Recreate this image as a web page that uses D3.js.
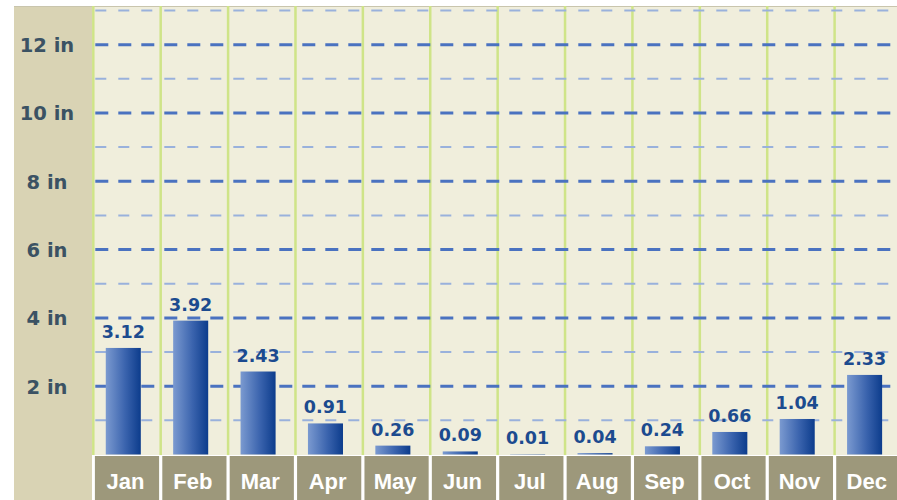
<!DOCTYPE html>
<html>
<head>
<meta charset="utf-8">
<script src="https://cdn.jsdelivr.net/npm/d3@7"></script>
<style>
    html, body { margin: 0; padding: 0; background: #ffffff; }
    svg { display: block; }
</style>
</head>
<body>
<div id="chart"></div>
<script>
// monthly precipitation, inches
const months = ["Jan", "Feb", "Mar", "Apr", "May", "Jun", "Jul", "Aug", "Sep", "Oct", "Nov", "Dec"];
const rainfall = [3.12, 3.92, 2.43, 0.91, 0.26, 0.09, 0.01, 0.04, 0.24, 0.66, 1.04, 2.33];
const majorTicks = [2, 4, 6, 8, 10, 12];
const minorTicks = [1, 3, 5, 7, 9, 11, 13];

const width = 897;
const height = 500;

const plot = { left: 93.3, top: 6, right: 902, bottom: 455 };
const panel = { left: 14, right: 92 };

const svg = d3.select("#chart").append("svg")
    .attr("width", width)
    .attr("height", height);

const defs = svg.append("defs");
const grad = defs.append("linearGradient")
    .attr("id", "barGrad")
    .attr("x1", "0%").attr("x2", "100%")
    .attr("y1", "0%").attr("y2", "0%");
grad.append("stop").attr("offset", "0%").attr("stop-color", "#7b9ad0");
grad.append("stop").attr("offset", "55%").attr("stop-color", "#3b64ae");
grad.append("stop").attr("offset", "100%").attr("stop-color", "#0c3c8c");

const x = d3.scaleBand()
    .domain(months)
    .range([plot.left, plot.right])
    .padding(0);

const y = d3.scaleLinear()
    .domain([0, 13])
    .range([454.5, 10.5]);

// backgrounds
svg.append("rect")
    .attr("x", panel.left)
    .attr("y", plot.top)
    .attr("width", panel.right - panel.left)
    .attr("height", height - plot.top)
    .attr("fill", "#d9d3b4");

svg.append("rect")
    .attr("x", plot.left)
    .attr("y", plot.top)
    .attr("width", plot.right - plot.left)
    .attr("height", plot.bottom - plot.top)
    .attr("fill", "#f0eedc");

svg.append("line")
    .attr("x1", panel.left).attr("x2", width)
    .attr("y1", plot.top + 0.5).attr("y2", plot.top + 0.5)
    .attr("stroke", "#c9c5ad")
    .attr("stroke-width", 1);

// vertical column separators
const bounds = months.map(m => x(m)).concat([x.range()[1]]);
svg.append("g")
    .selectAll("line")
    .data(bounds)
    .join("line")
    .attr("x1", d => d).attr("x2", d => d)
    .attr("y1", plot.top).attr("y2", plot.bottom)
    .attr("stroke", "#cfe488")
    .attr("stroke-width", 2.5);

// horizontal dashed grid
const grid = svg.append("g");
grid.selectAll("line.minor")
    .data(minorTicks)
    .join("line")
    .attr("class", "minor")
    .attr("x1", plot.left + 2).attr("x2", width)
    .attr("y1", d => y(d)).attr("y2", d => y(d))
    .attr("stroke", "#99b1dc")
    .attr("stroke-width", 2)
    .attr("stroke-dasharray", "11,12");

grid.selectAll("line.major")
    .data(majorTicks)
    .join("line")
    .attr("class", "major")
    .attr("x1", plot.left + 2).attr("x2", width)
    .attr("y1", d => y(d)).attr("y2", d => y(d))
    .attr("stroke", "#4a72c0")
    .attr("stroke-width", 3)
    .attr("stroke-dasharray", "13,10");

// y axis labels in the side panel
svg.append("g")
    .selectAll("text")
    .data(majorTicks)
    .join("text")
    .attr("x", 47)
    .attr("y", d => y(d) + 2)
    .attr("text-anchor", "middle")
    .attr("dominant-baseline", "middle")
    .attr("font-family", "DejaVu Sans, Verdana, sans-serif")
    .attr("font-weight", "bold")
    .attr("font-size", "19.5px")
    .attr("fill", "#3b5263")
    .text(d => d + " in");

// bars
const barOffset = x.bandwidth() * 0.185;
const barWidth = x.bandwidth() * 0.52;

svg.append("g")
    .selectAll("rect")
    .data(rainfall)
    .join("rect")
    .attr("x", (d, i) => x(months[i]) + barOffset)
    .attr("y", d => y(d))
    .attr("width", barWidth)
    .attr("height", d => y(0) - y(d))
    .attr("fill", "url(#barGrad)");

// value labels
svg.append("g")
    .selectAll("text")
    .data(rainfall)
    .join("text")
    .attr("x", (d, i) => x(months[i]) + barOffset + barWidth / 2)
    .attr("y", d => y(d) - 10)
    .attr("text-anchor", "middle")
    .attr("font-family", "DejaVu Sans, Verdana, sans-serif")
    .attr("font-weight", "bold")
    .attr("font-size", "17.5px")
    .attr("fill", "#1c4b8f")
    .text(d => d.toFixed(2));

// month band
const band = svg.append("g");
band.selectAll("rect")
    .data(months)
    .join("rect")
    .attr("x", d => x(d) + 1.6)
    .attr("y", plot.bottom + 1)
    .attr("width", x.bandwidth() - 3.2)
    .attr("height", height - plot.bottom - 1)
    .attr("fill", "#9d987b");

band.selectAll("text")
    .data(months)
    .join("text")
    .attr("x", d => x(d) + x.bandwidth() / 2 - 1.5)
    .attr("y", 489)
    .attr("text-anchor", "middle")
    .attr("font-family", "Liberation Sans, Arial, sans-serif")
    .attr("font-weight", "bold")
    .attr("font-size", "22px")
    .attr("fill", "#ffffff")
    .text(d => d);
</script>
</body>
</html>
